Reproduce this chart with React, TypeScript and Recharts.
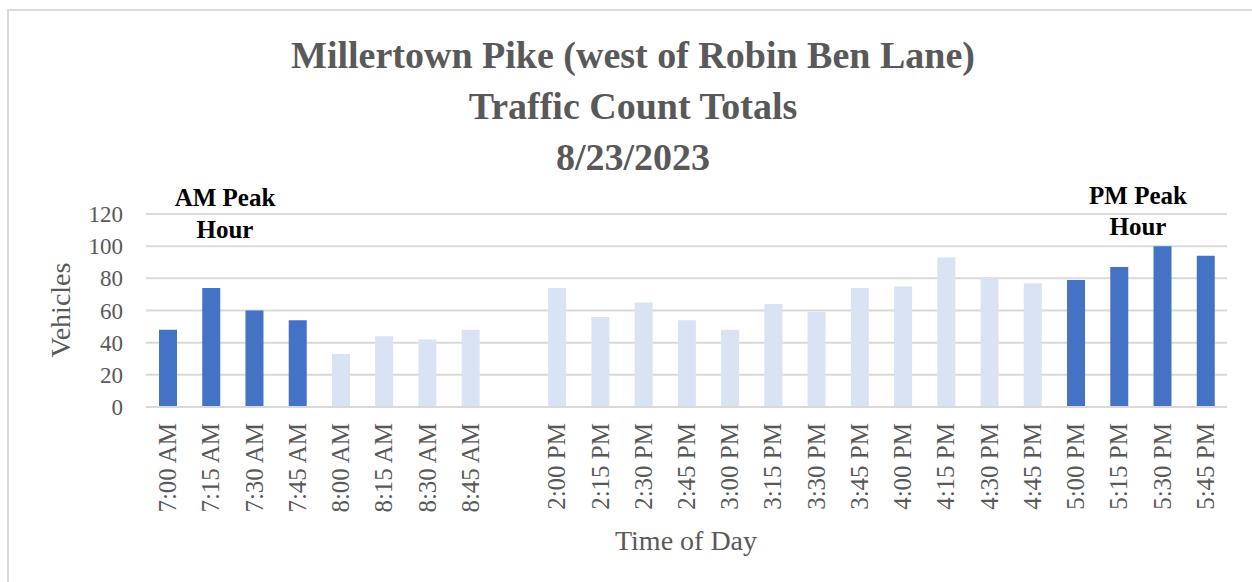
import React from 'react';
import { BarChart, Bar, XAxis, YAxis, CartesianGrid, Cell } from 'recharts';

const categories = [
  '7:00 AM', '7:15 AM', '7:30 AM', '7:45 AM', '8:00 AM', '8:15 AM', '8:30 AM', '8:45 AM',
  '',
  '2:00 PM', '2:15 PM', '2:30 PM', '2:45 PM', '3:00 PM', '3:15 PM', '3:30 PM', '3:45 PM',
  '4:00 PM', '4:15 PM', '4:30 PM', '4:45 PM', '5:00 PM', '5:15 PM', '5:30 PM', '5:45 PM',
];
const vehicles: (number | null)[] = [
  48, 74, 60, 54, 33, 44, 42, 48,
  null,
  74, 56, 65, 54, 48, 64, 59, 74,
  75, 93, 80, 77, 79, 87, 100, 94,
];
const peakHour = [
  true, true, true, true, false, false, false, false,
  false,
  false, false, false, false, false, false, false, false,
  false, false, false, false, true, true, true, true,
];
const yTicks = [0, 20, 40, 60, 80, 100, 120];
const titleLines = ['Millertown Pike (west of Robin Ben Lane)', 'Traffic Count Totals', '8/23/2023'];

const PEAK_COLOR = '#4472C4';
const OFF_COLOR = '#DAE3F3';
const TEXT = '#595959';
const FONT = '"Liberation Serif", "Times New Roman", serif';

const data = categories.map((c, i) => ({ time: c, value: vehicles[i], peak: peakHour[i] }));

const XTick = (props: any) => {
  const { x, y, payload } = props;
  return (
    <text
      x={x}
      y={y}
      transform={`rotate(-90, ${x}, ${y})`}
      textAnchor="end"
      dominantBaseline="central"
      fill={TEXT}
      fontSize={25}
      fontFamily={FONT}
    >
      {payload.value}
    </text>
  );
};

export default function App() {
  return (
    <div style={{ position: 'absolute', left: 0, top: 0, width: 1252, height: 582, overflow: 'hidden', background: '#fff' }}>
      <BarChart
        width={1252}
        height={582}
        data={data}
        margin={{ top: 214, right: 25, left: 0, bottom: 0 }}
        barSize={18}
      >
        <CartesianGrid vertical={false} stroke="#d9d9d9" strokeWidth={2} />
        <XAxis
          dataKey="time"
          interval={0}
          tickLine={false}
          axisLine={{ stroke: '#d9d9d9', strokeWidth: 2 }}
          tick={<XTick />}
          tickMargin={10}
          height={175}
        />
        <YAxis
          width={146}
          domain={[0, 120]}
          ticks={yTicks}
          axisLine={false}
          tickLine={false}
          tickMargin={17}
          tick={{ fill: TEXT, fontSize: 23, fontFamily: FONT }}
        />
        <Bar dataKey="value" isAnimationActive={false}>
          {data.map((d, i) => (
            <Cell key={i} fill={d.peak ? PEAK_COLOR : OFF_COLOR} />
          ))}
        </Bar>
      </BarChart>
      <svg width={1252} height={582} style={{ position: 'absolute', left: 0, top: 0, pointerEvents: 'none' }}>
        <line x1={7} y1={10} x2={1252} y2={10} stroke="#d9d9d9" strokeWidth={2} />
        <line x1={8} y1={9} x2={8} y2={582} stroke="#d9d9d9" strokeWidth={2} />
        {titleLines.map((t, i) => (
          <text key={i} x={633} y={68 + i * 51} textAnchor="middle" fill={TEXT} fontSize={38} fontWeight="bold" fontFamily={FONT}>
            {t}
          </text>
        ))}
        <text x={225} y={206} textAnchor="middle" fill="#000" fontSize={25} fontWeight="bold" fontFamily={FONT}>AM Peak</text>
        <text x={225} y={238} textAnchor="middle" fill="#000" fontSize={25} fontWeight="bold" fontFamily={FONT}>Hour</text>
        <text x={1138} y={204} textAnchor="middle" fill="#000" fontSize={25} fontWeight="bold" fontFamily={FONT}>PM Peak</text>
        <text x={1138} y={235} textAnchor="middle" fill="#000" fontSize={25} fontWeight="bold" fontFamily={FONT}>Hour</text>
        <text x={60} y={310} transform="rotate(-90, 60, 310)" textAnchor="middle" dominantBaseline="central" fill={TEXT} fontSize={28} fontFamily={FONT}>Vehicles</text>
        <text x={686} y={550} textAnchor="middle" fill={TEXT} fontSize={28} fontFamily={FONT}>Time of Day</text>
      </svg>
    </div>
  );
}
